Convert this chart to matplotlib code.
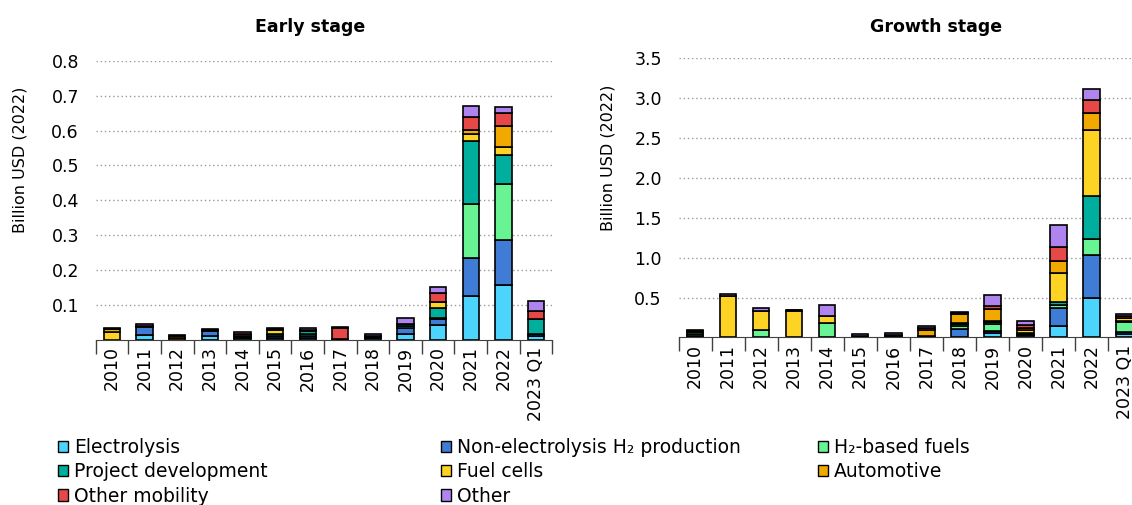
import numpy as np
import matplotlib.pyplot as plt
from matplotlib.patches import Patch

years = ["2010", "2011", "2012", "2013", "2014", "2015", "2016", "2017", "2018", "2019", "2020", "2021", "2022", "2023 Q1"]

categories = ["Electrolysis", "Non-electrolysis H\u2082 production", "H\u2082-based fuels", "Project development",
	"Fuel cells", "Automotive", "Other mobility", "Other"]
colors = ["#4dd4fd", "#3e7cd6", "#69f493", "#00ae9e", "#fed424", "#f1a900", "#e64848", "#af84ee"]

# Early stage, billion USD (2022)
early_electrolysis = [0, 0.014, 0, 0.010, 0.003, 0.004, 0.005, 0, 0.003, 0.016, 0.043, 0.124, 0.157, 0.011]
early_non_electrolysis = [0, 0.022, 0, 0.014, 0.005, 0.007, 0.006, 0.002, 0.004, 0.018, 0.016, 0.110, 0.129, 0.005]
early_h2_fuels = [0, 0, 0, 0, 0, 0, 0.006, 0, 0, 0.005, 0.002, 0.154, 0.160, 0]
early_project_dev = [0, 0, 0, 0.003, 0.003, 0.005, 0.008, 0, 0.004, 0.005, 0.030, 0.181, 0.083, 0.042]
early_fuel_cells = [0.023, 0, 0.004, 0, 0, 0.010, 0, 0, 0, 0, 0.018, 0.022, 0.024, 0]
early_automotive = [0.008, 0, 0.005, 0, 0, 0.003, 0, 0, 0, 0, 0, 0.011, 0.059, 0]
early_other_mobility = [0, 0.004, 0, 0, 0.004, 0, 0.003, 0.032, 0, 0, 0.026, 0.036, 0.038, 0.025]
early_other = [0.003, 0.005, 0.004, 0.004, 0.006, 0.003, 0.006, 0.002, 0.004, 0.018, 0.015, 0.034, 0.017, 0.027]

# Growth stage, billion USD (2022)
growth_electrolysis = [0, 0, 0, 0, 0, 0, 0.01, 0, 0.01, 0.05, 0.01, 0.146, 0.50, 0.04]
growth_non_electrolysis = [0, 0, 0, 0, 0, 0.01, 0.01, 0, 0.10, 0.033, 0.02, 0.229, 0.533, 0.03]
growth_h2_fuels = [0.02, 0, 0.092, 0, 0.183, 0, 0, 0, 0.04, 0.0875, 0.01, 0.03, 0.204, 0.13]
growth_project_dev = [0.02, 0, 0, 0, 0, 0.01, 0.01, 0, 0.02, 0.025, 0.02, 0.045, 0.529, 0.01]
growth_fuel_cells = [0.03, 0.517, 0.238, 0.33, 0.083, 0, 0, 0.015, 0.01, 0.01, 0.035, 0.354, 0.833, 0.03]
growth_automotive = [0.015, 0, 0, 0, 0, 0, 0, 0.075, 0.115, 0.146, 0.025, 0.15, 0.217, 0.01]
growth_other_mobility = [0, 0, 0, 0.01, 0, 0, 0, 0.03, 0.01, 0.04, 0.04, 0.175, 0.163, 0.02]
growth_other = [0.015, 0.033, 0.042, 0.01, 0.1375, 0.02, 0.02, 0.02, 0.015, 0.1375, 0.05, 0.279, 0.1375, 0.03]

early_series = [early_electrolysis, early_non_electrolysis, early_h2_fuels, early_project_dev,
	early_fuel_cells, early_automotive, early_other_mobility, early_other]
growth_series = [growth_electrolysis, growth_non_electrolysis, growth_h2_fuels, growth_project_dev,
	growth_fuel_cells, growth_automotive, growth_other_mobility, growth_other]

plt.rcParams["font.family"] = "DejaVu Sans"

fig = plt.figure(figsize=(11.32, 5.05), dpi=100)
ax1 = fig.add_axes([0.0845, 0.3277, 0.4034, 0.5515])
ax2 = fig.add_axes([0.5994, 0.3317, 0.4086, 0.5535])


def draw_stack(ax, series, ymax, yticks, label_x, label_y):
	x = np.arange(len(years))
	bottom = np.zeros(len(years))
	for vals, col in zip(series, colors):
		vals = np.array(vals, dtype=float)
		keep = vals > 0
		ax.bar(x[keep], vals[keep], 0.5, bottom=bottom[keep], color=col, edgecolor="black", linewidth=1.2, zorder=3)
		bottom = bottom + vals
	ax.set_xlim(-0.5, len(years) - 0.5)
	ax.set_ylim(0, ymax)
	ax.set_yticks(yticks)
	ax.set_yticklabels(["%.1f" % v for v in yticks])
	ax.yaxis.grid(True, linestyle=(0, (1, 2)), color="#9a9a9a", linewidth=1)
	ax.set_axisbelow(True)
	ax.set_xticks(x)
	ax.set_xticklabels(years, rotation=90)
	ax.set_xticks(np.arange(-0.5, len(years), 1), minor=True)
	ax.tick_params(axis="x", which="major", length=0, pad=5, labelsize=12.5)
	ax.tick_params(axis="x", which="minor", length=10, color="#404040", width=1)
	ax.tick_params(axis="y", length=0, pad=12, labelsize=12.5)
	for s in ["left", "right", "top"]:
		ax.spines[s].set_visible(False)
	ax.spines["bottom"].set_color("#404040")
	ax.set_ylabel("Billion USD (2022)", fontsize=11.5)
	ax.yaxis.set_label_coords(label_x, label_y)


draw_stack(ax1, early_series, 0.8, [0.1, 0.2, 0.3, 0.4, 0.5, 0.6, 0.7, 0.8], -0.150, 0.645)
draw_stack(ax2, growth_series, 3.5, [0.5, 1.0, 1.5, 2.0, 2.5, 3.0, 3.5], -0.137, 0.642)

fig.text(310 / 1132, 1 - 27 / 505, "Early stage", ha="center", va="center", fontsize=12.5, fontweight="bold")
fig.text(936 / 1132, 1 - 27 / 505, "Growth stage", ha="center", va="center", fontsize=12.5, fontweight="bold")

# legend laid out row by row in three fixed columns
handles = [Patch(facecolor=c, edgecolor="black", linewidth=1) for c in colors]
col_items = [[0, 3, 6], [1, 4, 7], [2, 5]]
col_x = [58, 441, 818]
for items, xp in zip(col_items, col_x):
	fig.legend([handles[i] for i in items], [categories[i] for i in items],
		loc="upper left", bbox_to_anchor=(xp / 1132, 1 - 438 / 505), frameon=False,
		fontsize=13.5, handlelength=0.55, handleheight=0.55, handletextpad=0.3,
		labelspacing=0.28, borderpad=0, borderaxespad=0)

fig.savefig("out.png", dpi=100)
